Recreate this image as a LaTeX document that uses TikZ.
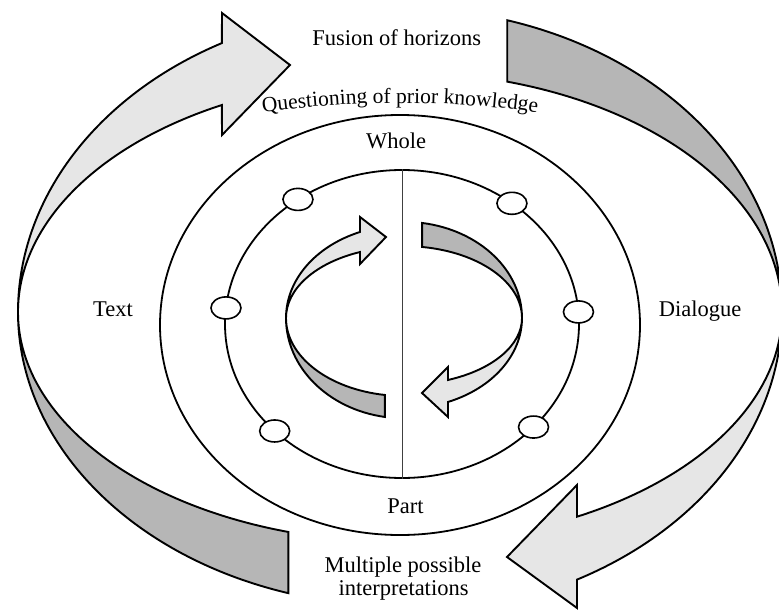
\documentclass[tikz,border=0pt]{standalone}
\usepackage{fontspec}
\setmainfont{Liberation Serif}
\usetikzlibrary{calc,decorations.text,shapes.geometric}

\definecolor{ribbonlight}{HTML}{E6E6E6}
\definecolor{ribbondark}{HTML}{B6B6B6}
\newcommand\lblfont{\fontsize{22.5}{23.5}\selectfont}
\newcommand\arcfont{\fontsize{21.5}{23}\selectfont}

\tikzset{
  ribbon/.style={draw=black, line width=1.9pt, line join=miter},
  lightband/.style={ribbon, fill=ribbonlight},
  darkband/.style={ribbon, fill=ribbondark},
  ring/.style={draw=black, line width=1.8pt, ellipse, inner sep=0pt},
  stage/.style={draw=black, line width=1.6pt, ellipse, fill=white,
    minimum width=30pt, minimum height=22pt, inner sep=0pt},
  divider/.style={draw=black!75, line width=1pt},
  lbltext/.style={font=\lblfont, inner sep=0pt, anchor=base, align=center},
}

\begin{document}
\begin{tikzpicture}[x=1pt,y=1pt]
\useasboundingbox (0,0) rectangle (779,-610);

% centres of the two twisted ribbons
\coordinate (BC) at (400,-312);
\coordinate (SC) at (404,-318);

% ---- outer ribbon: light arrow top-left, dark band bottom-left
\draw[lightband] ($(BC)+(180:382 and 304)$)
  arc[start angle=180, end angle=117.8, x radius=382, y radius=304]
  -- (222,-13) -- (290,-65) -- (222,-135)
  -- ($(BC)+(117.8:382 and 234)$)
  arc[start angle=117.8, end angle=180, x radius=382, y radius=234] -- cycle;
\draw[darkband] ($(BC)+(180:382 and 294)$)
  arc[start angle=180, end angle=253, x radius=382, y radius=294]
  -- ($(BC)+(253:382 and 230)$)
  arc[start angle=253, end angle=180, x radius=382, y radius=230] -- cycle;

% ---- outer ribbon: dark band top-right, light arrow bottom-right
\draw[darkband] ($(BC)+(73.7:382 and 304)$)
  arc[start angle=73.7, end angle=0, x radius=382, y radius=304]
  arc[start angle=0, end angle=73.7, x radius=382, y radius=240] -- cycle;
\draw[lightband] ($(BC)+(0:382 and 302)$)
  arc[start angle=0, end angle=-62.4, x radius=382, y radius=302]
  -- (577,-608) -- (507,-557) -- (577,-485)
  -- ($(BC)+(-62.4:382 and 231)$)
  arc[start angle=-62.4, end angle=0, x radius=382, y radius=231] -- cycle;

% ---- the two rings
\node[ring, minimum width=480pt, minimum height=420pt] (outerring) at (400,-325) {};
\node[ring, minimum width=354pt, minimum height=308pt] (innerring) at (402,-324) {};
\draw[divider] (innerring.north) -- (innerring.south);

% ---- inner ribbon: light arrow top-left, dark band bottom-left
\draw[lightband] ($(SC)+(180:118 and 92.7)$)
  arc[start angle=180, end angle=111.9, x radius=118, y radius=92.7]
  -- (360,-217) -- (386,-237) -- (360,-264)
  -- ($(SC)+(111.9:118 and 71.1)$)
  arc[start angle=111.9, end angle=180, x radius=118, y radius=71.1] -- cycle;
\draw[darkband] ($(SC)+(180:118 and 100.3)$)
  arc[start angle=180, end angle=260.7, x radius=118, y radius=100.3]
  -- ($(SC)+(260.7:118 and 78)$)
  arc[start angle=260.7, end angle=180, x radius=118, y radius=78] -- cycle;

% ---- inner ribbon: dark band top-right, light arrow bottom-right
\draw[darkband] ($(SC)+(81.2:118 and 96.2)$)
  arc[start angle=81.2, end angle=0, x radius=118, y radius=96.2]
  arc[start angle=0, end angle=81.2, x radius=118, y radius=71.9] -- cycle;
\draw[lightband] ($(SC)+(0:118 and 90.5)$)
  arc[start angle=0, end angle=-68.1, x radius=118, y radius=90.5]
  -- (448,-417) -- (422,-393) -- (448,-367)
  -- ($(SC)+(-68.1:118 and 66.8)$)
  arc[start angle=-68.1, end angle=0, x radius=118, y radius=66.8] -- cycle;

% ---- stations on the inner ring
\node[stage] (s1) at ($(innerring.center)+(126:177 and 154)$) {};
\node[stage] (s2) at ($(innerring.center)+(51.6:177 and 154)$) {};
\node[stage] (s3) at ($(innerring.center)+(174:177 and 154)$) {};
\node[stage] (s4) at ($(innerring.center)+(4.5:177 and 154)$) {};
\node[stage] (s5) at ($(innerring.center)+(224:177 and 154)$) {};
\node[stage] (s6) at ($(innerring.center)+(318:177 and 154)$) {};

% ---- labels
\node[lbltext] (fusion) at (396.7,-45.7) {Fusion of horizons};
\node[lbltext] (whole) at (396,-148) {Whole};
\node[lbltext] (text) at (113,-316) {Text};
\node[lbltext] (dialogue) at (700,-316.5) {Dialogue};
\node[lbltext] (part) at (405.5,-513) {Part};
\node[lbltext] (multi) at (403,-572.7) {Multiple possible};
\node[lbltext] (interp) at (403.5,-595.5) {interpretations};

\path[decorate, decoration={text along path, text align=center,
    text={|\arcfont|Questioning of prior knowledge}}]
  ($(400,-1103)+(99:1000)$) arc[start angle=99, end angle=81, radius=1000];
\end{tikzpicture}
\end{document}
